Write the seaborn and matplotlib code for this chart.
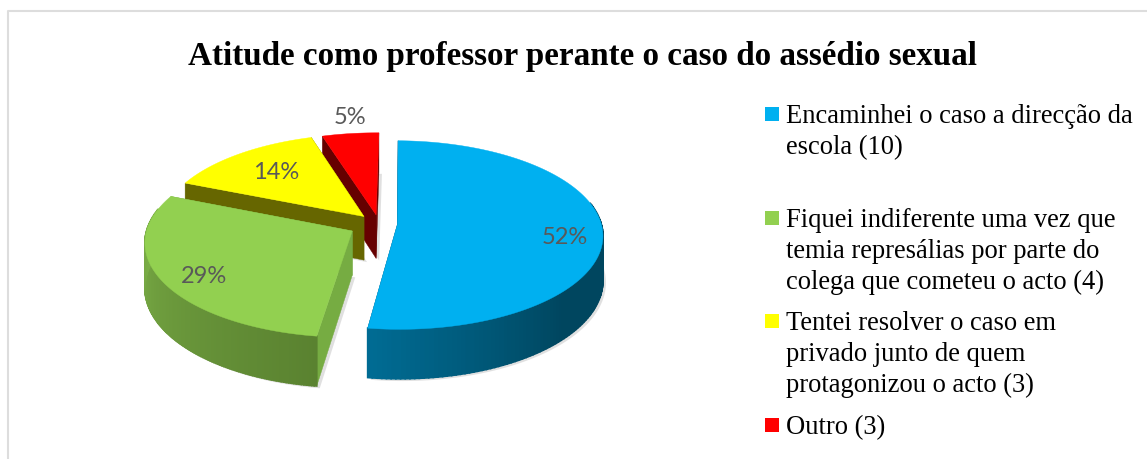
import numpy as np
import matplotlib
matplotlib.use("Agg")
import matplotlib.pyplot as plt
from matplotlib.patches import Rectangle
import seaborn as sns

# --- dados ---
TITLE = "Atitude como professor perante o caso do assédio sexual"
categories = [
    "Encaminhei o caso a direcção da\nescola (10)",
    "Fiquei indiferente uma vez que\ntemia represálias por parte do\ncolega que cometeu o acto (4)",
    "Tentei resolver o caso em\nprivado junto de quem\nprotagonizou o acto (3)",
    "Outro (3)",
]
percent = [52, 29, 14, 5]
top_colors = ["#00B0F0", "#92D050", "#FFFF00", "#FF0000"]

# paredes: cor inicial e final do gradiente (esquerda -> direita)
wall_left = ["#006C94", "#7DB148", "#666600", "#660000"]
wall_right = ["#00465F", "#5A8230", "#666600", "#660000"]
radial_colors = ["#004560", "#76AC42", "#666600", "#660000"]

# --- layout ---
CX, CY = 379, 225        # centro do disco em px
RX, RY = 204, 93         # raios
DEPTH = 44               # altura da extrusao
PERSP = 0.11             # perspectiva
ROTATION = np.radians(0.8)
explode = [0.09, 0.15, 0.11, 0.10]
draw_order = [3, 2, 0, 1]
label_xy = [(565, 238), (204, 277), (276, 173), (350, 118)]
legend_y = [115, 219, 322, 426]

sns.set_theme(style="white")
plt.rcParams["font.family"] = ["Liberation Serif", "DejaVu Serif"]

fig, ax = plt.subplots(figsize=(11.47, 4.6), dpi=100)
ax.set_position([0, 0, 1, 1])
ax.set_xlim(0, 1147)
ax.set_ylim(460, 0)
ax.axis("off")

# moldura cinzenta (so topo e esquerda aparecem no recorte)
ax.plot([8, 8, 1147], [460, 12, 12], color="#DDDDDD", lw=1.5, zorder=1)


def project(X, Y, drop=0.0):
    s = 1.0 / (1.0 + PERSP * Y)
    return CX + X * RX * s, CY - Y * RY * s + drop * s


bounds = np.cumsum([0] + percent) / np.sum(percent) * 2 * np.pi + ROTATION
z = 2
for i in draw_order:
    a0, a1 = bounds[i], bounds[i + 1]
    mid = (a0 + a1) / 2
    ox, oy = explode[i] * np.sin(mid), explode[i] * np.cos(mid)
    t = np.linspace(a0, a1, 160)
    X = ox + np.sin(t)
    Y = oy + np.cos(t)

    # sombra leve: a fatia deslocada para baixo e para a direita
    sx, sy = project(np.r_[ox, X], np.r_[oy, Y], DEPTH + 2)
    ax.fill(sx + 3, sy, color="#D4D4D4", alpha=0.7, lw=0, zorder=z)
    z += 1

    # paredes radiais
    for a in (a0, a1):
        ex, ey = [ox, ox + np.sin(a)], [oy, oy + np.cos(a)]
        px, py = project(np.array(ex), np.array(ey))
        qx, qy = project(np.array(ex), np.array(ey), DEPTH)
        ax.fill([px[0], px[1], qx[1], qx[0]], [py[0], py[1], qy[1], qy[0]],
                color=radial_colors[i], lw=0.3, zorder=z)
        z += 1

    # parede exterior em gradiente
    idx = np.where(np.cos(t) < 0.25)[0]
    if len(idx) > 1:
        px, py = project(X, Y)
        qx, qy = project(X, Y, DEPTH)
        if i == 0:
            # no azul o escuro chega a meio da parede
            grad = sns.blend_palette([wall_right[i], wall_right[i], wall_left[i]], n_colors=len(idx))
        else:
            grad = sns.blend_palette([wall_right[i], wall_left[i]], n_colors=len(idx))
        for k in range(len(idx) - 1):
            j0, j1 = idx[k], idx[k + 1]
            ax.fill([px[j0], px[j1], qx[j1], qx[j0]], [py[j0], py[j1], qy[j1], qy[j0]],
                    color=grad[k], lw=1.2, zorder=z)
            z += 0.001
        z += 1

    # face de topo
    px, py = project(np.r_[ox, X], np.r_[oy, Y])
    ax.fill(px, py, color=top_colors[i], lw=0.3, zorder=z)
    z += 1

for pct, (lx, ly) in zip(percent, label_xy):
    ax.text(lx, ly, f"{pct}%", ha="center", va="center", color="#595959",
            fontsize=17, family=["Lato", "DejaVu Sans"], zorder=z)

ax.text(582, 57, TITLE, ha="center", va="center", fontsize=23.9, fontweight="bold", color="black", zorder=z)

for cat, col, ly in zip(categories, top_colors, legend_y):
    ax.add_patch(Rectangle((765, ly - 7), 14, 14, color=col, lw=0, zorder=z))
    ax.text(786, ly - 11, cat, ha="left", va="top", fontsize=19.1, color="black",
            linespacing=1.32, zorder=z)

fig.savefig("out.png", dpi=100)
